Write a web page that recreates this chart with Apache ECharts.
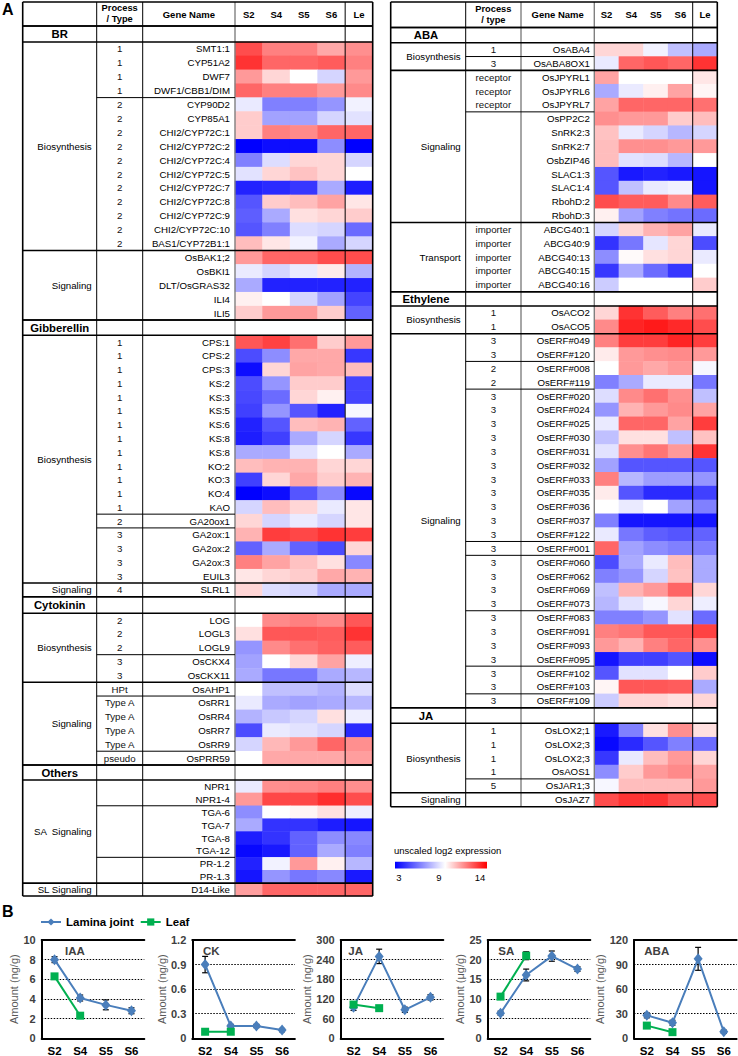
<!DOCTYPE html>
<html><head><meta charset="utf-8">
<script src="https://cdn.jsdelivr.net/npm/echarts/dist/echarts.min.js"></script>
<style>html,body{margin:0;padding:0;background:#fff}#c{width:738px;height:1056px}</style>
</head><body><div id="c"></div>
<script>
const FONT = '"Liberation Sans", Arial, Helvetica, sans-serif';
const stages = ['S2','S4','S5','S6','Le'];

// ---------- Panel A data ----------
const brGenes = ['SMT1:1','CYP51A2','DWF7','DWF1/CBB1/DIM','CYP90D2','CYP85A1','CHI2/CYP72C:1','CHI2/CYP72C:2','CHI2/CYP72C:4','CHI2/CYP72C:5','CHI2/CYP72C:7','CHI2/CYP72C:8','CHI2/CYP72C:9','CHI2/CYP72C:10','BAS1/CYP72B1:1','OsBAK1;2','OsBKI1','DLT/OsGRAS32','ILI4','ILI5'];
const brTypes = ['1','1','1','1','2','2','2','2','2','2','2','2','2','2','2','','','','',''];
const brValues = [
[12.5,11.5,11.5,10.7,11.2],[13,12,12,12.2,11.5],[11,9.8,9,8,11],[12,11.5,11.5,11,11.3],
[8.5,6,6,6.5,8.7],[10,6.8,6.8,8,8.3],[10,11.5,11.3,12,12],[3,3.3,3.3,6.3,3],
[6,8.2,9.8,9.8,8],[8.3,9.8,10.2,9.8,9],[3.8,4,4.3,7,3.7],[5,10,10.3,10.8,9.5],
[5.2,7,9.6,9.8,10],[5,6,8.2,8,5.5],[10.3,9.5,8.7,7,8],[11,12,12,12.5,12.5],
[8.5,8,8.5,9.4,7.2],[7,3.8,3.8,3.8,3.8],[9.3,9,8,6.8,4.6],[10,11,11,10,5.3]];
const brSubs = [['Biosynthesis',[4,11]],['Signaling',[5]]];

const gaGenes = ['CPS:1','CPS:2','CPS:3','KS:2','KS:3','KS:5','KS:6','KS:8','KS:8','KO:2','KO:3','KO:4','KAO','GA20ox1','GA2ox:1','GA2ox:2','GA2ox:3','EUIL3','SLRL1'];
const gaTypes = ['1','1','1','1','1','1','1','1','1','1','1','1','1','2','3','3','3','3','4'];
const gaValues = [
[12.3,12.7,11.8,10,11],[4.8,6.3,10.7,10.7,4.3],[3.3,9.8,10.8,10.7,10.3],[4.8,6.5,10,10,4.6],
[4.7,5.5,9.8,9.3,4.6],[4.5,6.5,5,3.8,8.8],[3.8,5,10.3,10.5,5.3],[3.7,4.5,7,8,4.3],
[7,7,8.3,9,7],[10.3,10.5,10.5,9.8,9.8],[4.5,9.8,10.7,10,10.5],[3,3.3,5,6.2,3.2],
[8,10.3,9.8,8.5,9.5],[9.8,8,8.5,8,9.5],[10.5,12.8,12.6,13,12.8],[5.3,7,5.3,4.8,9.8],
[11.5,10.8,10.2,9.6,6.2],[9.5,9.8,10,10.7,10.5],[9.8,8.2,8,7,7]];
const gaSubs = [['Biosynthesis',[13,1,4]],['Signaling',[1]]];

const ckGenes = ['LOG','LOGL3','LOGL9','OsCKX4','OsCKX11','OsAHP1','OsRR1','OsRR4','OsRR7','OsRR9','OsPRR59'];
const ckTypes = ['2','2','2','3','3','HPt','Type A','Type A','Type A','Type A','pseudo'];
const ckValues = [
[9,11.3,11.5,11.3,12.3],[9.6,12.3,12.3,12.2,13],[6.5,11.3,11.8,12.1,12.2],[6.8,9,9.8,10.8,8.6],
[7,5.8,5.8,7,7.3],[9,7.5,7.5,7.2,8.2],[8.5,7,6.8,7,7.3],[7.2,7.7,8,9.6,8.6],
[4.8,8.5,8.3,8,4],[8,10.4,11,12,11.2],[9,10.7,10.7,10.7,10.9]];
const ckSubs = [['Biosynthesis',[3,2]],['Signaling',[1,4,1]]];

const otGenes = ['NPR1','NPR1-4','TGA-6','TGA-7','TGA-8','TGA-12','PR-1.2','PR-1.3','D14-Like'];
const otTypes = ['','','','','','','','',''];
const otValues = [
[8.5,11.2,11.3,11.5,11.2],[11,12.6,12.6,13.1,12.5],[6.3,9,9.2,9.6,8.6],[7,4.2,4.2,3.7,3.5],
[3.7,4.2,5.3,6.3,6.2],[3.2,3.6,5.3,7,6],[3.8,8.7,11,9.3,7.3],[3.5,6.5,5.8,6.2,3.6],
[10.9,12,12,12,12]];
const otSubs = [['SA  Signaling',[2,4,2]],['SL Signaling',[1]]];

const abaGenes = ['OsABA4','OsABA8OX1','OsJPYRL1','OsJPYRL6','OsJPYRL7','OsPP2C2','SnRK2:3','SnRK2:7','OsbZIP46','SLAC1:3','SLAC1:4','RbohD:2','RbohD:3','ABCG40:1','ABCG40:9','ABCG40:13','ABCG40:15','ABCG40:16'];
const abaTypes = ['1','3','receptor','receptor','receptor','','','','','','','','','importer','importer','importer','importer','importer'];
const abaValues = [
[9.8,9.8,8.7,7.5,7],[8.5,12,12.3,12,13],[10.8,9,9,9,9.5],[7,8.5,9.3,10.8,9.2],
[10.8,12,12,12,11.8],[11.2,11,11,10,10.3],[10.2,8.5,8,7.3,8],[10.3,11.2,11.2,11,11],
[10.3,8.3,8.2,7.3,9],[5,3.6,3.8,3.6,3.5],[5,7.5,8.5,8.7,3.5],[12.5,12.2,12.2,11.3,12.2],
[9.3,6.8,6,5.7,5.5],[8,9.8,10.5,10.8,8.5],[4.2,5.8,8.4,9.8,4.8],[6.3,9.1,9.6,9.8,8.5],
[4.3,7,5.5,4.3,9],[7.8,9,9,9,10]];
const abaSubs = [['Biosynthesis',[1,1]],['Signaling',[3,8]],['Transport',[5]]];

const etGenes = ['OsACO2','OsACO5','OsERF#049','OsERF#120','OsERF#008','OsERF#119','OsERF#020','OsERF#024','OsERF#025','OsERF#030','OsERF#031','OsERF#032','OsERF#033','OsERF#035','OsERF#036','OsERF#037','OsERF#122','OsERF#001','OsERF#060','OsERF#062','OsERF#069','OsERF#073','OsERF#083','OsERF#091','OsERF#093','OsERF#095','OsERF#102','OsERF#103','OsERF#109'];
const etTypes = ['1','1','3','3','2','2','3','3','3','3','3','3','3','3','3','3','3','3','3','3','3','3','3','3','3','3','3','3','3'];
const etValues = [
[9.8,13,12.2,11.5,11.8],[11.3,13.3,13.5,13.2,12.5],[11.5,12.8,12.8,13.3,12.8],[9.4,11,11.2,11.3,11],
[9,11,10.7,11,8.8],[6,7,8.5,8.5,5.8],[8.2,11.3,11.8,11.2,7.5],[6.5,10.5,11,11.3,10.8],
[8.5,12,12,10.8,12.8],[7.5,9.6,9.6,7.5,10.2],[8.3,11.2,11.7,11,13],[6.8,5,5,5,5],
[11.5,7.3,6.7,6.7,6.5],[9.4,5,4,4,4.5],[9,8.5,9,6.8,6],[6,3.5,3.5,3.5,3.5],
[8.5,5.8,5.2,5,5.3],[12,6.8,6.3,6,6],[4.8,7,8.5,10.3,7],[6,6.5,8,10.2,7],
[7.5,10.5,11,12,9.8],[7.3,8.3,8.8,9.8,8.6],[6,6,6.5,8.3,5.5],[11.5,11.7,12.3,12.3,12.7],
[11,10.5,11.5,12,11.2],[3.5,4.5,4.5,5,3.3],[5,8.3,8.3,9,10],[9.2,12.3,12.3,12.2,7],
[7.8,9.8,9.8,9.6,9.8]];
const etSubs = [['Biosynthesis',[2]],['Signaling',[2,2,11,1,4,4,2,1]]];

const jaGenes = ['OsLOX2;1','OsLOX2;3','OsLOX2;3','OsAOS1','OsJAR1;3','OsJAZ7'];
const jaTypes = ['1','1','1','1','5',''];
const jaValues = [
[3.6,6,9.6,11.2,9.6],[3.2,4,5,6,5.5],[4.3,8.5,10.3,11,9.8],[6.3,10,11,11.3,10.8],
[8.8,10.3,10.3,10.3,11],[12.5,13,13,12.3,12.5]];
const jaSubs = [['Biosynthesis',[4,1]],['Signaling',[1]]];

const colorbarTicks = [3, 9, 14];

// ---------- Panel B data ----------
const bStages = ['S2','S4','S5','S6'];
const hormoneNames = ['IAA','CK','JA','SA','ABA'];
const hormoneUnits = ['Amount (ng/g)','Amount (ng/g)','Amount (ng/g)','Amount (\u03bcg/g)','Amount (ng/g)'];
const axisMax = [10, 1.2, 300, 25, 120];
const axisInterval = [2, 0.3, 60, 5, 30];
const laminaValues = [[8.0,4.1,3.4,2.8],[0.90,0.15,0.15,0.10],[95,250,87,125],[6.4,16.1,20.9,17.6],[28,19,97,8]];
const laminaErrors = [[0.3,0.3,0.5,0.3],[0.1,0.02,0.02,0.02],[10,22,8,8],[0.5,1.5,1.3,0.6],[3,3,14,2]];
const leafValues = [[6.3,2.3],[0.08,0.08],[103,92],[10.6,21.0],[15.5,7.5]];
const leafErrors = [[0.25,0.25],[0.02,0.02],[8,6],[0.5,1.0],[2,2]];

// ---------- layout ----------
const tables = [
  {x:[22.7,96.7,142.7,235,372.7], top:2, headBottom:26, procHead:['Process','/ Type'], secCenter:59.7, geneMargin:5, midGray:false,
   blocks:[
    {title:'BR', secTop:26, rowsTop:42, bottom:320, genes:brGenes, types:brTypes, values:brValues, subs:brSubs},
    {title:'Gibberellin', secTop:320, rowsTop:335.3, bottom:596.7, genes:gaGenes, types:gaTypes, values:gaValues, subs:gaSubs},
    {title:'Cytokinin', secTop:596.7, rowsTop:613.3, bottom:765, genes:ckGenes, types:ckTypes, values:ckValues, subs:ckSubs},
    {title:'Others', secTop:765, rowsTop:780, bottom:896, genes:otGenes, types:otTypes, values:otValues, subs:otSubs}]},
  {x:[390.7,465.7,521,594.3,717.3], top:2, headBottom:27.5, procHead:['Process','/ type'], secCenter:426, geneMargin:4.3, midGray:true,
   blocks:[
    {title:'ABA', secTop:27.5, rowsTop:42.7, bottom:291.7, genes:abaGenes, types:abaTypes, values:abaValues, subs:abaSubs},
    {title:'Ethylene', secTop:291.7, rowsTop:306, bottom:707.7, genes:etGenes, types:etTypes, values:etValues, subs:etSubs},
    {title:'JA', secTop:707.7, rowsTop:723.3, bottom:806.7, genes:jaGenes, types:jaTypes, values:jaValues, subs:jaSubs}]}
];
const hormoneLayout = [
  {left:41.7, titleX:65, nameGap:16.5},
  {left:192.3, titleX:203, nameGap:23.5},
  {left:340.7, titleX:348.3, nameGap:27},
  {left:487.7, titleX:498.3, nameGap:21.5},
  {left:634, titleX:644.3, nameGap:25}
];
const heatColors = ['#0000ff','#2a2aff','#5555ff','#8080ff','#aaaaff','#d5d5ff','#ffffff','#ffcccc','#ff9999','#ff6666','#ff3333','#ff0000'];

const grids=[], xAxis=[], yAxis=[], series=[], graphic=[], heatIdx=[];
function hline(x1,x2,y,w,c){graphic.push({type:'line',silent:true,z:100,shape:{x1:x1,y1:y,x2:x2,y2:y},style:{stroke:c||'#000',lineWidth:w||1}});}
function vline(x,y1,y2,w,c){graphic.push({type:'line',silent:true,z:100,shape:{x1:x,y1:y1,x2:x,y2:y2},style:{stroke:c||'#000',lineWidth:w||1}});}
function txt(x,y,s,o){o=o||{};graphic.push({type:'text',silent:true,z:101,x:x,y:y,style:{text:s,fill:o.fill||'#000',fontSize:o.size||9.7,fontWeight:o.bold?'bold':'normal',fontFamily:FONT,align:o.align||'center',textAlign:o.align||'center',verticalAlign:'middle',textVerticalAlign:'middle'}});}

tables.forEach(t=>{
  const [x0,x1,x2,x3,x4]=t.x;
  const cellW=(x4-x3)/5, leDiv=x3+4*cellW;
  const bottom=t.blocks[t.blocks.length-1].bottom;
  vline(x0,t.top,bottom,1.6); vline(x1,t.top,bottom,1);
  vline(x2,t.top,bottom,t.midGray?1.4:1,t.midGray?'#808080':'#000');
  vline(x3,t.top,bottom,1.4,'#808080'); vline(leDiv,t.top,bottom,1); vline(x4,t.top,bottom,1.6);
  hline(x0,x4,t.top,1.6); hline(x0,x4,t.headBottom,1.6);
  const hc=(t.top+t.headBottom)/2, hh=t.headBottom-t.top;
  txt((x1+x2)/2,t.top+hh*0.27,t.procHead[0],{bold:true,size:9.3});
  txt((x1+x2)/2,t.top+hh*0.72,t.procHead[1],{bold:true,size:9.3});
  txt((x2+x3)/2,hc,'Gene Name',{bold:true,size:9.5});
  stages.forEach((s,i)=>txt(x3+(i+0.5)*cellW,hc,s,{bold:true,size:9.5}));
  t.blocks.forEach(b=>{
    hline(x0,x4,b.secTop,1.6); hline(x0,x4,b.rowsTop,1.6); hline(x0,x4,b.bottom,1.6);
    txt(t.secCenter,(b.secTop+b.rowsTop)/2,b.title,{bold:true,size:11.3});
    const n=b.genes.length, rowH=(b.bottom-b.rowsTop)/n;
    let r=0;
    b.subs.forEach((sub,si)=>{
      const start=r;
      sub[1].forEach((g,gi)=>{r+=g; if(gi<sub[1].length-1) hline(x1,x3,b.rowsTop+r*rowH,1);});
      if(si<b.subs.length-1) hline(x0,x4,b.rowsTop+r*rowH,1.6);
      txt(x1-5,b.rowsTop+(start+r)/2*rowH,sub[0],{align:'right'});
    });
    const gi=grids.length;
    grids.push({left:x3,top:b.rowsTop,width:x4-x3,height:b.bottom-b.rowsTop,outerBoundsMode:'none',containLabel:false});
    const xi=xAxis.length;
    xAxis.push({gridIndex:gi,type:'category',data:stages,show:false});
    const yi=yAxis.length;
    yAxis.push({gridIndex:gi,type:'category',data:b.genes,inverse:true,axisLine:{show:false},axisTick:{show:false},splitLine:{show:false},
      axisLabel:{interval:0,margin:t.geneMargin,fontSize:9.7,color:'#000',fontFamily:FONT}});
    yAxis.push({gridIndex:gi,type:'category',data:b.types,inverse:true,position:'left',offset:x3-(x1+x2)/2,axisLine:{show:false},axisTick:{show:false},splitLine:{show:false},
      axisLabel:{interval:0,margin:0,align:'center',fontSize:9.7,color:'#111',fontFamily:FONT}});
    heatIdx.push(series.length);
    const data=[];
    b.values.forEach((row,ri)=>row.forEach((v,ci)=>data.push([ci,ri,v])));
    series.push({type:'heatmap',xAxisIndex:xi,yAxisIndex:yi,data:data,silent:true,itemStyle:{borderWidth:0},emphasis:{disabled:true},progressive:0});
  });
});

// colorbar legend
const cbX=395, cbY=861.7, cbW=92, cbH=6.7, vmin=3, vmax=14;
graphic.push({type:'rect',silent:true,z:100,shape:{x:cbX,y:cbY,width:cbW,height:cbH},
  style:{fill:new echarts.graphic.LinearGradient(0,0,1,0,heatColors.map((c,i)=>({offset:i/(heatColors.length-1),color:c})))}});
txt(394,850,'unscaled log2 expression',{align:'left',size:9.5});
colorbarTicks.forEach((v,i)=>{const xs=[399,439,480];txt(xs[i],877.5,String(v),{size:9.5});});

// panel labels
txt(2,9.5,'A',{bold:true,size:16,align:'left'});
txt(2,911,'B',{bold:true,size:16,align:'left'});

// ---------- Panel B ----------
function errorBar(params,api){
  const x=api.value(0);
  const lo=api.coord([x,api.value(1)]), hi=api.coord([x,api.value(2)]);
  const st={stroke:'#000',lineWidth:1.2}, cap=3;
  return {type:'group',children:[
    {type:'line',shape:{x1:lo[0],y1:lo[1],x2:hi[0],y2:hi[1]},style:st},
    {type:'line',shape:{x1:lo[0]-cap,y1:lo[1],x2:lo[0]+cap,y2:lo[1]},style:st},
    {type:'line',shape:{x1:hi[0]-cap,y1:hi[1],x2:hi[0]+cap,y2:hi[1]},style:st}]};
}
const LAM='#4a7ebb', LEAF='#00b050';
hormoneNames.forEach((h,i)=>{
  const L=hormoneLayout[i];
  const gi=grids.length;
  grids.push({left:L.left,top:940,width:102.6,height:98.3,outerBoundsMode:'none',containLabel:false});
  const xi=xAxis.length;
  xAxis.push({gridIndex:gi,type:'category',data:bStages,boundaryGap:true,axisLine:{show:true,lineStyle:{color:'#000',width:2}},axisTick:{show:false},
    axisLabel:{interval:0,color:'#000',fontWeight:'bold',fontSize:11.5,margin:7,fontFamily:FONT},splitLine:{show:false}});
  xAxis.push({gridIndex:gi,type:'category',data:bStages,position:'top',axisLine:{show:true,lineStyle:{color:'#000',width:2}},axisTick:{show:false},axisLabel:{show:false},splitLine:{show:false}});
  const yi=yAxis.length;
  yAxis.push({gridIndex:gi,type:'value',min:0,max:axisMax[i],interval:axisInterval[i],
    axisLine:{show:true,lineStyle:{color:'#000',width:2}},axisTick:{show:false},
    axisLabel:{color:'#404040',fontWeight:'bold',fontSize:11,margin:6,fontFamily:FONT},
    splitLine:{show:true,lineStyle:{color:'#000',type:[1.5,1.5],width:1}},
    name:hormoneUnits[i],nameLocation:'middle',nameGap:L.nameGap,nameTextStyle:{color:'#595959',fontSize:11,fontFamily:FONT}});
  series.push({type:'custom',xAxisIndex:xi,yAxisIndex:yi,renderItem:errorBar,silent:true,z:1,
    data:laminaValues[i].map((v,k)=>[k,v-laminaErrors[i][k],v+laminaErrors[i][k]])});
  series.push({type:'custom',xAxisIndex:xi,yAxisIndex:yi,renderItem:errorBar,silent:true,z:1,
    data:leafValues[i].map((v,k)=>[k,v-leafErrors[i][k],v+leafErrors[i][k]])});
  series.push({type:'line',name:'Lamina joint',xAxisIndex:xi,yAxisIndex:yi,data:laminaValues[i],symbol:'diamond',symbolSize:[9,11],
    lineStyle:{color:LAM,width:2},itemStyle:{color:LAM},z:3,silent:true});
  series.push({type:'line',name:'Leaf',xAxisIndex:xi,yAxisIndex:yi,data:leafValues[i],symbol:'rect',symbolSize:8,
    lineStyle:{color:LEAF,width:2},itemStyle:{color:LEAF},z:3,silent:true});
  txt(L.titleX,951,h,{bold:true,size:11.5,align:'left',fill:'#404040'});
});

const chart=echarts.init(document.getElementById('c'),null,{renderer:'svg',width:738,height:1056});
chart.setOption({
  animation:false,
  backgroundColor:'#fff',
  grid:grids, xAxis:xAxis, yAxis:yAxis, series:series,
  visualMap:{type:'continuous',show:false,min:vmin,max:vmax,dimension:2,seriesIndex:heatIdx,inRange:{color:heatColors}},
  legend:{data:['Lamina joint','Leaf'],left:40,top:916,itemWidth:20,itemHeight:9,itemGap:6,padding:0,
    textStyle:{color:'#000',fontWeight:'bold',fontSize:11.5,fontFamily:FONT}},
  graphic:{elements:graphic}
});
</script></body></html>
